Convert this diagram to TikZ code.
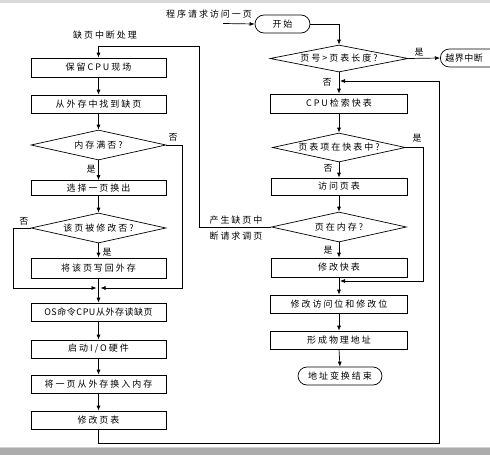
\documentclass[tikz,border=0pt]{standalone}
\usepackage{fontspec}
\newfontfamily\cjk{Noto Sans CJK SC}[LetterSpace=22]
\newfontfamily\cjkn{Noto Sans CJK SC}[LetterSpace=6]
\usetikzlibrary{arrows.meta,shapes.geometric}
\begin{document}
\begin{tikzpicture}[x=1pt,y=-1pt,line width=0.7pt,
  every node/.style={font=\cjk\fontsize{9}{11}\selectfont, inner sep=0pt},
  box/.style={draw, rectangle, minimum width=135pt},
  dec/.style={draw, diamond, minimum width=135pt, minimum height=30pt},
  term/.style={draw, rectangle, rounded corners=9pt, minimum height=18pt},
  arr/.style={-{Latex[length=5pt,width=4pt]}},
  yn/.style={font=\cjk\fontsize{9}{11}\selectfont}]
\useasboundingbox (0,0) rectangle (490,455);
\clip (0,0) rectangle (490,455);
\fill[white] (0,0) rectangle (490,455);
\fill[gray!30] (0,0) rectangle (490,2.5);
\fill[gray!35] (0,446.5) rectangle (490,448);
\fill[gray!65] (0,448) rectangle (490,455);

% left column
\node[box, minimum height=19pt] (b1) at (98.5,67.5) {保留CPU现场};
\node[box, minimum height=18pt] (b2) at (98.5,104) {从外存中找到缺页};
\node[dec, label=center:{内存满否?}] (d1) at (98.5,145) {};
\node[box, minimum height=15pt] (b3) at (98.5,188) {选择一页换出};
\node[dec, label=center:{该页被修改否?}] (d2) at (98.5,228) {};
\node[box, minimum height=20pt] (b4) at (98.5,268) {将该页写回外存};
\node[box, minimum height=18pt] (b5) at (98.5,312) {\cjkn OS命令CPU从外存读缺页};
\node[box, minimum height=18pt] (b6) at (98.5,349) {启动I/O硬件};
\node[box, minimum height=18pt] (b7) at (98.5,384) {将一页从外存换入内存};
\node[box, minimum height=18pt] (b8) at (98.5,420) {修改页表};

% right column
\node[term, minimum width=55pt] (start) at (282.5,24) {开始};
\node[dec, minimum width=138pt, minimum height=27pt, label=center:{页号>页表长度?}] (rd1) at (339,58.5) {};
\node[term, minimum width=64pt, anchor=west, label={[anchor=west, xshift=5pt, font=\cjkn\fontsize{9}{11}\selectfont]west:越界中断}] (yj) at (440,58) {};
\node[box, minimum width=137pt, minimum height=19pt] (rb1) at (339,103.5) {CPU检索快表};
\node[dec, minimum width=133pt, minimum height=29pt, label=center:{页表项在快表中?}] (rd2) at (339,147.5) {};
\node[box, minimum width=136pt, minimum height=17pt] (rb2) at (339,186.5) {访问页表};
\node[dec, label=center:{页在内存?}] (rd3) at (339,227) {};
\node[box, minimum width=136pt, minimum height=19pt] (rb3) at (339,267.5) {修改快表};
\node[box, minimum width=137pt, minimum height=18pt] (rb4) at (339,304) {修改访问位和修改位};
\node[box, minimum width=137pt, minimum height=18pt] (rb5) at (339,340) {形成物理地址};
\node[term, minimum width=84pt] (end) at (340,376) {地址变换结束};

% texts
\node (t0) at (105,35) {缺页中断处理};
\node (t1) at (209,14) {程序请求访问一页};
\node[align=center, font=\cjk\fontsize{9}{16}\selectfont] (t2) at (236,228) {产生缺页中\\断请求调页};
\node[yn] (n1) at (173,137) {否};
\node[yn] (y1) at (91,169) {是};
\node[yn] (n2) at (24,221) {否};
\node[yn] (y2) at (107,252) {是};
\node[yn] (y3) at (419,52) {是};
\node[yn] (n3) at (327,82) {否};
\node[yn] (y4) at (417,138) {是};
\node[yn] (n4) at (328,168) {否};
\node[yn] (y5) at (328,250) {是};

% coordinates
\coordinate (j1) at (98.5,288);
\coordinate (k1) at (98.5,46);
\coordinate (k2) at (199,46);
\coordinate (s0) at (223,23.5);
\coordinate (m1) at (339,281);
\coordinate (m2) at (339,81);
\coordinate (c1) at (439,443);

% left connectors
\draw[arr] (rd3.west) -| (k2) -- (k1) -- (b1.north);
\draw[arr] (b1.south) -- (b2.north);
\draw[arr] (b2.south) -- (d1.north);
\draw[arr] (d1.south) -- (b3.north);
\draw[arr] (b3.south) -- (d2.north);
\draw[arr] (d2.south) -- (b4.north);
\draw[arr] (b4.south) -- (b5.north);
\draw[arr] (d1.east) -- ++(16,0) |- ([xshift=2pt]j1);
\draw[arr] (d2.west) -- ++(-17,0) |- ([xshift=-2pt]j1);
\draw[arr] (b5.south) -- (b6.north);
\draw[arr] (b6.south) -- (b7.north);
\draw[arr] (b7.south) -- (b8.north);
\draw[arr] (b8.south) |- (c1) -- (m2 -| c1) -- ([xshift=1pt]m2);

% right connectors
\draw[arr] (s0) -- (start.west);
\draw[arr] (start.east) -| (rd1.north);
\draw[arr] (rd1.east) -- (yj.west);
\draw[arr] (rd1.south) -- (rb1.north);
\draw[arr] (rb1.south) -- (rd2.north);
\draw[arr] (rd2.east) -- ++(17,0) |- ([xshift=1pt]m1);
\draw[arr] (rd2.south) -- (rb2.north);
\draw[arr] (rb2.south) -- (rd3.north);
\draw[arr] (rd3.south) -- (rb3.north);
\draw[arr] (rb3.south) -- (rb4.north);
\draw[arr] (rb4.south) -- (rb5.north);
\draw[arr] (rb5.south) -- (end.north);
\end{tikzpicture}
\end{document}
